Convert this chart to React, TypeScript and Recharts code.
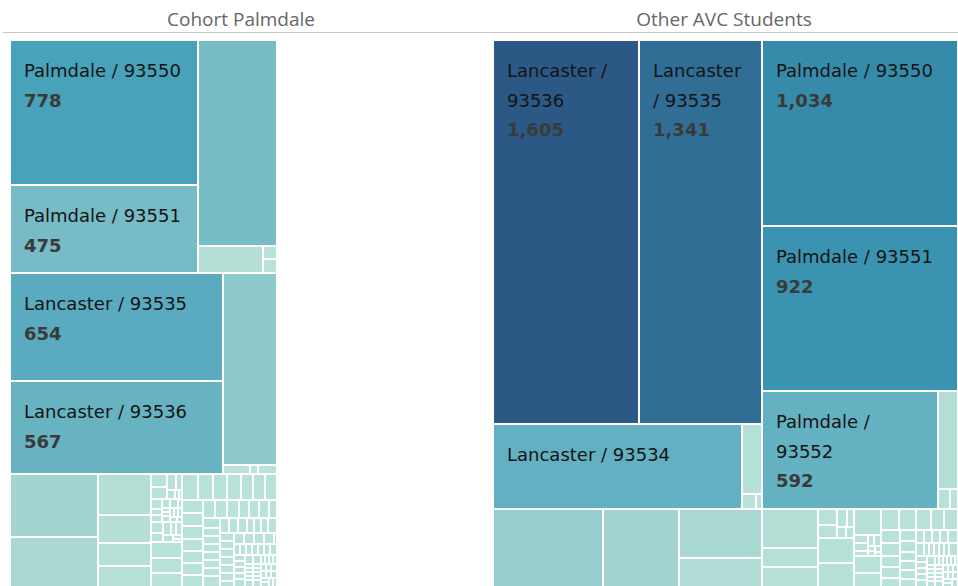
import React from 'react';
import { Treemap } from 'recharts';

// ---------- Panels ----------
const PANEL_TITLES = ['Cohort Palmdale', 'Other AVC Students'];

// ---------- Cohort Palmdale ----------
const COHORT_PALMDALE_ZIPS = ['93550', '93551', '93552', '93591', '93590', '93599'];
const COHORT_PALMDALE_VALUES = [778, 475, 464, 50, 5, 3];
const COHORT_LANCASTER_ZIPS = ['93535', '93536', '93534', '93539', '93584', '93586'];
const COHORT_LANCASTER_VALUES = [654, 567, 295, 7, 2, 2];
const COHORT_MAJOR_PLACES = ['Littlerock / 93543', 'Acton / 93510', 'Rosamond / 93560', 'Llano / 93544', 'Pearblossom / 93553', 'Tehachapi / 93561'];
const COHORT_MAJOR_VALUES = [159, 123, 62, 43, 34, 33];
const COHORT_SANTA_CLARITA_VALUES = [6, 5, 4, 3, 2, 1, 1];
const COHORT_LOS_ANGELES_VALUES = [3, 2, 2, 2, 2, 1, 1, 1, 1, 1, 1, 1, 1, 1];
const COHORT_BAKERSFIELD_VALUES = [4, 3, 3, 2, 2, 2, 1, 1];
const COHORT_MINOR_PLACES = ['California City / 93505', 'Mojave / 93501', 'Lake Hughes / 93532'];
const COHORT_MINOR_VALUES = [14, 13, 12];
const COHORT_TAIL_VALUES = [
  12, 11, 10, 10, 9, 9, 9, 8, 8, 8, 7, 7, 7, 6, 6, 6, 6, 5, 5, 5, 5, 5,
  4, 4, 4, 4, 4, 4, 4, 4, 4, 4,
  3, 3, 3, 3, 3, 3, 3, 3, 3, 3, 3, 3, 3, 3, 3,
  2, 2, 2, 2, 2, 2, 2, 2, 2, 2, 2, 2, 2, 2, 2,
  1, 1, 1, 1, 1, 1, 1, 1, 1, 1, 1, 1, 1, 1, 1, 1, 1, 1, 1, 1, 1, 1, 1, 1, 1,
];

// ---------- Other AVC Students ----------
const OTHER_LANCASTER_ZIPS = ['93536', '93535', '93534', '93539', '93584', '93586'];
const OTHER_LANCASTER_VALUES = [1605, 1341, 605, 40, 6, 3];
const OTHER_PALMDALE_ZIPS = ['93550', '93551', '93552', '93591', '93590', '93599'];
const OTHER_PALMDALE_VALUES = [1034, 922, 592, 56, 7, 3];
const OTHER_MAJOR_PLACES = ['Rosamond / 93560', 'Littlerock / 93543', 'Acton / 93510', 'Tehachapi / 93561', 'California City / 93505', 'Llano / 93544', 'Pearblossom / 93553'];
const OTHER_MAJOR_VALUES = [244, 169, 117, 68, 63, 31, 31];
const OTHER_SANTA_CLARITA_VALUES = [9, 7, 5, 4, 3, 2];
const OTHER_MID_PLACES = ['Mojave / 93501', 'Lake Hughes / 93532', 'Edwards / 93523'];
const OTHER_MID_VALUES = [26, 25, 20];
const OTHER_LOS_ANGELES_VALUES = [3, 3, 2, 2, 2, 1, 1, 1, 1];
const OTHER_MINOR_PLACES = ['Boron / 93516', 'Bakersfield / 93307'];
const OTHER_MINOR_VALUES = [13, 12];
const OTHER_TAIL_VALUES = [
  11, 10, 9, 8, 8, 7, 7, 6, 6, 5, 5, 5, 4, 4, 4, 4,
  3, 3, 3, 3, 3, 3,
  2, 2, 2, 2, 2, 2, 2, 2, 2, 2, 2, 2,
  1, 1, 1, 1, 1, 1, 1, 1, 1, 1, 1, 1, 1, 1, 1, 1, 1, 1, 1, 1, 1, 1, 1, 1, 1,
];

// ---------- Shared ZIP / place lists ----------
const SANTA_CLARITA_ZIPS = ['91350', '91351', '91387', '91390', '91321', '91354', '91355'];
const LOS_ANGELES_ZIPS = ['90001', '90002', '90003', '90004', '90011', '90016', '90018', '90019', '90026', '90028', '90037', '90043', '90044', '90047'];
const BAKERSFIELD_ZIPS = ['93307', '93306', '93309', '93304', '93311', '93312', '93313', '93308'];
const TAIL_PLACES = [
  'Hesperia / 92345', 'Victorville / 92392', 'Castaic / 91384', 'Sylmar / 91342', 'Adelanto / 92301',
  'Phelan / 92371', 'Van Nuys / 91405', 'Gorman / 93243', 'Frazier Park / 93225', 'Apple Valley / 92307',
  'North Hollywood / 91605', 'Pacoima / 91331', 'Northridge / 91324', 'Glendale / 91205', 'Burbank / 91505',
  'Reseda / 91335', 'Pasadena / 91104', 'Long Beach / 90805', 'Pomona / 91766', 'Torrance / 90501',
  'Inglewood / 90301', 'Compton / 90221', 'Downey / 90241', 'Whittier / 90605', 'Norwalk / 90650',
  'El Monte / 91731', 'Ontario / 91761', 'Fontana / 92335', 'Riverside / 92503', 'San Bernardino / 92404',
  'Oxnard / 93030', 'Ventura / 93003', 'Simi Valley / 93065', 'Thousand Oaks / 91360', 'Camarillo / 93010',
  'Moorpark / 93021', 'Fillmore / 93015', 'Santa Paula / 93060', 'Chatsworth / 91311', 'Canoga Park / 91304',
  'Tarzana / 91356', 'Encino / 91316', 'Sherman Oaks / 91403', 'Studio City / 91604', 'Tujunga / 91042',
  'Sunland / 91040', 'La Crescenta / 91214', 'Panorama City / 91402', 'Granada Hills / 91344', 'Mission Hills / 91345',
  'San Fernando / 91340', 'Stevenson Ranch / 91381', 'Ridgecrest / 93555', 'Inyokern / 93527', 'Barstow / 92311',
  'Taft / 93268', 'Delano / 93215', 'Wasco / 93280', 'Shafter / 93263', 'Arvin / 93203',
  'Lamont / 93241', 'Keene / 93531', 'Caliente / 93518', 'Oak Hills / 92344', 'Wrightwood / 92397',
  'Pinon Hills / 92372', 'Lucerne Valley / 92356', 'Helendale / 92342', 'Hinkley / 92347', 'Oro Grande / 92368',
  'Trona / 93562', 'Randsburg / 93554', 'Olancha / 93549', 'Lone Pine / 93545', 'Bishop / 93514',
  'Santa Monica / 90401', 'Culver City / 90230', 'Hawthorne / 90250', 'Gardena / 90247', 'Carson / 90745',
  'Lakewood / 90712', 'Cerritos / 90703', 'Bellflower / 90706', 'Paramount / 90723', 'Lynwood / 90262',
  'South Gate / 90280', 'Huntington Park / 90255',
];

// labels whose value line Tableau left out
const HIDDEN_VALUE_LABELS = ['Other AVC Students|Lancaster / 93534'];

// ---------- Build hierarchical data ----------
type Leaf = { name: string; value: number };
type Group = { name: string; children: Leaf[] };

const group = (city: string, zips: string[], values: number[]): Group => ({
  name: city,
  children: values.map((v, i) => ({ name: `${city} / ${zips[i]}`, value: v })),
});
const singles = (places: string[], values: number[]): Group[] =>
  values.map((v, i) => ({ name: places[i].split(' / ')[0], children: [{ name: places[i], value: v }] }));

const cohortData: Group[] = [
  group('Palmdale', COHORT_PALMDALE_ZIPS, COHORT_PALMDALE_VALUES),
  group('Lancaster', COHORT_LANCASTER_ZIPS, COHORT_LANCASTER_VALUES),
  ...singles(COHORT_MAJOR_PLACES, COHORT_MAJOR_VALUES),
  group('Santa Clarita', SANTA_CLARITA_ZIPS, COHORT_SANTA_CLARITA_VALUES),
  group('Los Angeles', LOS_ANGELES_ZIPS, COHORT_LOS_ANGELES_VALUES),
  group('Bakersfield', BAKERSFIELD_ZIPS, COHORT_BAKERSFIELD_VALUES),
  ...singles(COHORT_MINOR_PLACES, COHORT_MINOR_VALUES),
  ...singles(TAIL_PLACES, COHORT_TAIL_VALUES),
];

const otherData: Group[] = [
  group('Lancaster', OTHER_LANCASTER_ZIPS, OTHER_LANCASTER_VALUES),
  group('Palmdale', OTHER_PALMDALE_ZIPS, OTHER_PALMDALE_VALUES),
  ...singles(OTHER_MAJOR_PLACES, OTHER_MAJOR_VALUES),
  group('Santa Clarita', SANTA_CLARITA_ZIPS, OTHER_SANTA_CLARITA_VALUES),
  ...singles(OTHER_MID_PLACES, OTHER_MID_VALUES),
  group('Los Angeles', LOS_ANGELES_ZIPS, OTHER_LOS_ANGELES_VALUES),
  ...singles(OTHER_MINOR_PLACES, OTHER_MINOR_VALUES),
  ...singles(TAIL_PLACES, OTHER_TAIL_VALUES),
];

const total = (d: Group[]) => d.reduce((s, g) => s + g.children.reduce((a, c) => a + c.value, 0), 0);

// ---------- Layout / style ----------
const TREEMAP_HEIGHT = 547;
const AREA_PER_UNIT = 35.1; // shared size scale between the two panes
const LABEL_FONT_FAMILY = 'DejaVu Sans';
const LABEL_SIZE = 18;
const LABEL_FONT = `${LABEL_SIZE}px "${LABEL_FONT_FAMILY}"`;
const FIRST_BASELINE = 37;
const LINE_H = 29.5;
const BOTTOM_PAD = 12;

const COLOR_STOPS: Array<[number, number[]]> = [
  [0, [185, 227, 217]],
  [60, [178, 222, 214]],
  [120, [170, 216, 211]],
  [160, [164, 212, 209]],
  [244, [152, 205, 207]],
  [305, [140, 200, 202]],
  [464, [120, 188, 198]],
  [567, [104, 179, 194]],
  [654, [90, 171, 191]],
  [778, [72, 162, 185]],
  [922, [58, 147, 176]],
  [1034, [55, 139, 170]],
  [1341, [48, 110, 150]],
  [1605, [44, 88, 133]],
];

function colorFor(v: number): string {
  let i = 0;
  while (i < COLOR_STOPS.length - 2 && v > COLOR_STOPS[i + 1][0]) i++;
  const [v0, c0] = COLOR_STOPS[i];
  const [v1, c1] = COLOR_STOPS[i + 1];
  const t = Math.max(0, Math.min(1, (v - v0) / (v1 - v0)));
  const c = c0.map((a, k) => Math.round(a + (c1[k] - a) * t));
  return `rgb(${c[0]},${c[1]},${c[2]})`;
}

let measureCtx: CanvasRenderingContext2D | null = null;
function textWidth(s: string): number {
  if (!measureCtx) measureCtx = document.createElement('canvas').getContext('2d');
  if (!measureCtx) return s.length * LABEL_SIZE * 0.6;
  measureCtx.font = LABEL_FONT;
  return measureCtx.measureText(s).width;
}

const makeCell = (panel: string) => (props: any) => {
  const { x, y, width, height, depth, name, value } = props;
  if (depth !== 2) return <g />;
  const w = width - 2;
  const h = height - 2;
  if (!(w > 0 && h > 0)) return <g />;
  const avail = width - 24;
  const words = String(name).split(' ');
  const lines: string[] = [];
  let ok = true;
  let cur = '';
  for (const wd of words) {
    if (textWidth(wd) > avail) { ok = false; break; }
    const t = cur ? `${cur} ${wd}` : wd;
    if (textWidth(t) <= avail) cur = t;
    else { lines.push(cur); cur = wd; }
  }
  if (cur) lines.push(cur);
  const nameFits = ok && FIRST_BASELINE + (lines.length - 1) * LINE_H + BOTTOM_PAD <= height;
  const valueOffset = FIRST_BASELINE + lines.length * LINE_H;
  const showValue = nameFits && valueOffset + BOTTOM_PAD <= height && !HIDDEN_VALUE_LABELS.includes(`${panel}|${name}`);
  return (
    <g>
      <rect x={x + 1} y={y + 1} width={w} height={h} fill={colorFor(value)} />
      {nameFits && lines.map((l, i) => (
        <text key={i} x={x + 14} y={y + FIRST_BASELINE + i * LINE_H} fontFamily={LABEL_FONT_FAMILY} fontSize={LABEL_SIZE} fill="#141414">
          {l}
        </text>
      ))}
      {showValue && (
        <text x={x + 14} y={y + valueOffset} fontFamily={LABEL_FONT_FAMILY} fontSize={LABEL_SIZE} fontWeight="bold" fill="#3a3a3a">
          {Number(value).toLocaleString('en-US')}
        </text>
      )}
    </g>
  );
};

const PANELS = [
  { title: PANEL_TITLES[0], data: cohortData, left: 10, center: 241 },
  { title: PANEL_TITLES[1], data: otherData, left: 493, center: 724 },
];

export default function App() {
  return (
    <div style={{ position: 'absolute', left: 0, top: 0, width: 958, height: 586, overflow: 'hidden', background: '#fff' }}>
      <svg width={958} height={40} style={{ position: 'absolute', left: 0, top: 0 }}>
        {PANELS.map((p) => (
          <text key={p.title} x={p.center} y={26} textAnchor="middle" fontFamily="Open Sans" fontSize={19} fill="#666">
            {p.title}
          </text>
        ))}
        <line x1={3} x2={958} y1={32.5} y2={32.5} stroke="#c8c8c8" strokeWidth={1} />
      </svg>
      {PANELS.map((p) => {
        const w = Math.round((total(p.data) * AREA_PER_UNIT) / TREEMAP_HEIGHT);
        return (
          <div key={p.title} style={{ position: 'absolute', left: p.left, top: 40 }}>
            <Treemap
              width={w}
              height={TREEMAP_HEIGHT}
              data={p.data}
              dataKey="value"
              isAnimationActive={false}
              content={makeCell(p.title) as any}
            />
          </div>
        );
      })}
    </div>
  );
}
